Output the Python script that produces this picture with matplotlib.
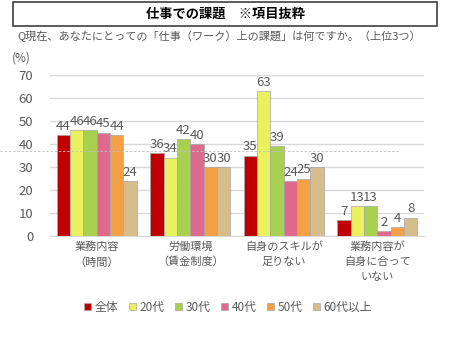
import matplotlib
matplotlib.use("Agg")
import matplotlib.pyplot as plt
import numpy as np
from matplotlib.patches import Rectangle
from matplotlib.lines import Line2D

plt.rcParams['font.family'] = ['Noto Sans CJK JP', 'DejaVu Sans']

categories = ["業務内容\n（時間）", "労働環境\n（賃金制度）", "自身のスキルが\n足りない", "業務内容が\n自身に合って\nいない"]
series = ["全体", "20代", "30代", "40代", "50代", "60代以上"]
values = [
    [44, 36, 35, 7],
    [46, 34, 63, 13],
    [46, 42, 39, 13],
    [45, 40, 24, 2],
    [44, 30, 25, 4],
    [24, 30, 30, 8],
]
colors = ["#C00000", "#EAF15E", "#A8D150", "#E06A8E", "#F4A047", "#D7BD8C"]
yticks = [0, 10, 20, 30, 40, 50, 60, 70]
txt = "#595959"

fig = plt.figure(figsize=(4.49, 3.38), dpi=100)
ax = fig.add_axes([50/449, 1-236/338, 374/449, 161/338])

n = len(series)
x = np.arange(len(categories))
w = 0.143
for i, (s, vals, c) in enumerate(zip(series, values, colors)):
    pos = x + (i - (n-1)/2) * w
    ax.bar(pos, vals, width=w, color=c, edgecolor="#A6A6A6", linewidth=0.5, label=s, zorder=3)
    for p, v in zip(pos, vals):
        ax.text(p, v + 1.0, str(v), ha="center", va="bottom", fontsize=9.5, color=txt, zorder=4)

ax.set_xlim(-0.5, len(categories) - 0.5)
ax.set_ylim(0, 70)
ax.set_yticks(yticks)
ax.set_yticklabels([str(t) for t in yticks], fontsize=9.5, color=txt)
ax.yaxis.grid(True, color="#D9D9D9", linewidth=1, zorder=0)
ax.set_axisbelow(True)
for sp in ["top", "right", "left"]:
    ax.spines[sp].set_visible(False)
ax.spines["bottom"].set_color("#D9D9D9")
ax.tick_params(axis="y", length=0, pad=12)
ax.tick_params(axis="x", length=0, pad=4)
ax.set_xticks(x)
ax.set_xticklabels(categories, fontsize=8, color=txt, linespacing=1.55)

# title box
fig.patches.append(Rectangle((13/449, 1-26/338), 424/449, 24/338, transform=fig.transFigure,
                             fill=False, edgecolor="#404040", linewidth=1.2))
fig.text(225/449, 1-14/338, "仕事での課題　※項目抜粋", ha="center", va="center",
         fontsize=9.5, fontweight="bold", color="#000000")
fig.text(17/449, 1-36/338, "Q現在、あなたにとっての「仕事（ワーク）上の課題」は何ですか。（上位3つ）",
         ha="left", va="center", fontsize=8, color=txt)
fig.text(12/449, 1-58/338, "(%)", ha="left", va="center", fontsize=8.5, color=txt)

# dashed reference line
fig.lines.append(Line2D([0, 400/449], [1-151/338, 1-151/338], transform=fig.transFigure,
                        color="#BFBFBF", linewidth=0.6, linestyle=(0, (3, 2))))

leg = fig.legend(loc="center", bbox_to_anchor=(228/449, 1-307/338), ncol=6, frameon=False,
                 fontsize=8.5, handlelength=0.6, handleheight=0.6, handletextpad=0.3,
                 columnspacing=0.9, labelcolor=txt)

fig.savefig("out.png", dpi=100)
